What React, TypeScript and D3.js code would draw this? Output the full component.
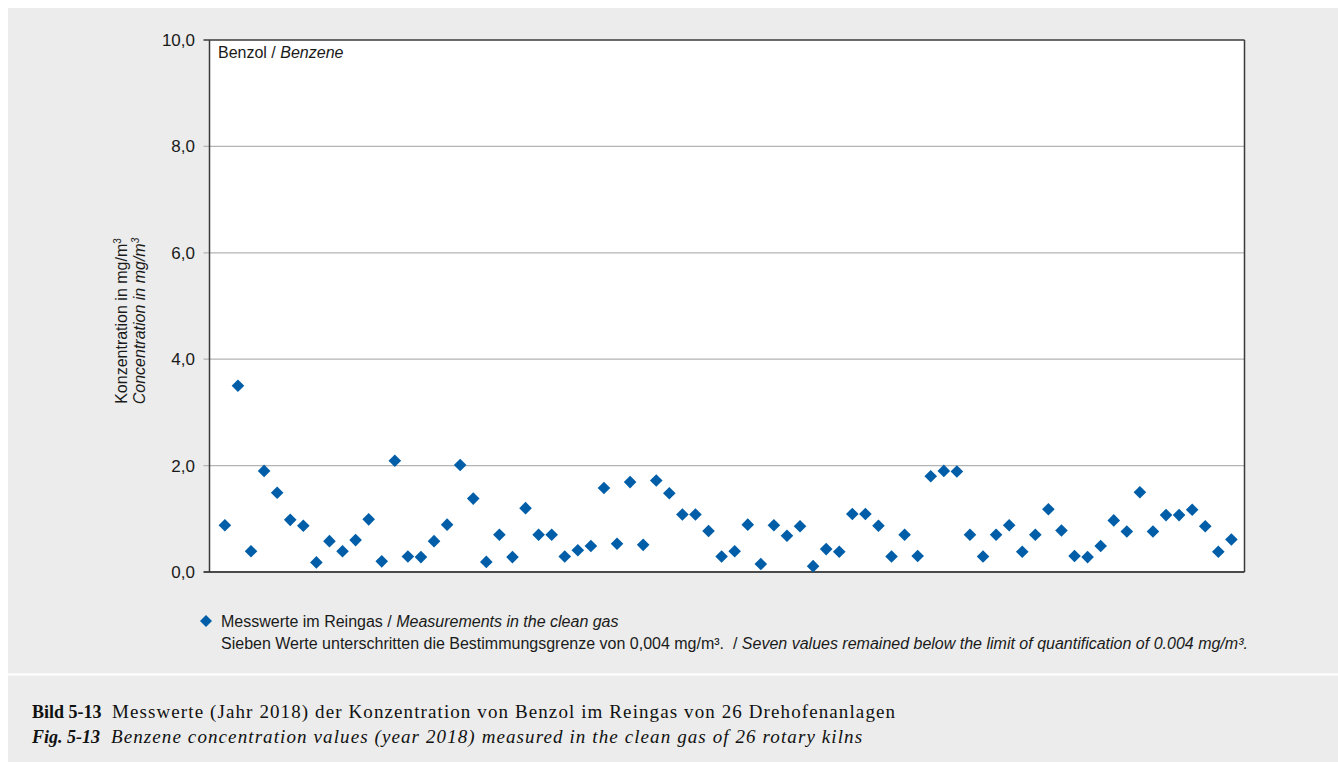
import * as d3 from "d3";

const values = [
  0.88, 3.5, 0.39, 1.9, 1.49, 0.98, 0.87, 0.18, 0.58, 0.39,
  0.6, 0.99, 0.2, 2.09, 0.29, 0.28, 0.58, 0.89, 2.01, 1.38,
  0.19, 0.7, 0.28, 1.2, 0.7, 0.7, 0.29, 0.41, 0.49, 1.58,
  0.53, 1.69, 0.51, 1.72, 1.48, 1.08, 1.08, 0.77, 0.29, 0.39,
  0.89, 0.15, 0.88, 0.68, 0.86, 0.11, 0.43, 0.38, 1.09, 1.09,
  0.87, 0.29, 0.7, 0.3, 1.8, 1.9, 1.89, 0.7, 0.29, 0.7,
  0.88, 0.38, 0.7, 1.18, 0.78, 0.3, 0.28, 0.49, 0.97, 0.76,
  1.5, 0.76, 1.07, 1.07, 1.17, 0.86, 0.38, 0.61,
];
const yTicks = [0, 2, 4, 6, 8, 10];

const W = 1338;
const H = 762;
const plot = { left: 209.5, right: 1244.5, top: 40, bottom: 572 };
const blue = "#005ea8";
const bg = "#ebeceb";
const narrow = "'Liberation Sans Narrow', 'Liberation Sans', Arial, sans-serif";
const serif = "'Liberation Serif', 'Times New Roman', serif";

const diamond = (cx: number, cy: number, r: number) =>
  `M${cx},${cy - r}L${cx + r},${cy}L${cx},${cy + r}L${cx - r},${cy}Z`;

export default function App() {
  const x = d3
    .scalePoint<number>()
    .domain(values.map((_, i) => i))
    .range([plot.left, plot.right])
    .padding(1.09)
    .align(0.54);
  const y = d3.scaleLinear().domain([0, 10]).range([plot.bottom, plot.top]);
  const fmt = (v: number) => d3.format(".1f")(v).replace(".", ",");

  return (
    <svg
      width={W}
      height={H}
      style={{ position: "absolute", left: 0, top: 0 }}
    >
      <rect x={8} y={8} width={W - 8} height={H - 8} fill={bg} />
      <line x1={8} x2={W} y1={674.5} y2={674.5} stroke="#fff" strokeWidth={2} />

      {/* Plotfläche */}
      <rect
        x={plot.left}
        y={plot.top}
        width={plot.right - plot.left}
        height={plot.bottom - plot.top}
        fill="#fff"
      />
      {yTicks.filter((t) => t > 0 && t < 10).map((t) => (
        <line
          key={t}
          x1={plot.left - 6}
          x2={plot.right}
          y1={y(t)}
          y2={y(t)}
          stroke="#b4b4b4"
          strokeWidth={1.3}
        />
      ))}
      <line x1={plot.left - 6} x2={plot.right} y1={plot.top} y2={plot.top} stroke="#3a3a3a" strokeWidth={1.3} />
      <line x1={plot.left - 6} x2={plot.right} y1={plot.bottom} y2={plot.bottom} stroke="#4a4a4a" strokeWidth={2.2} />
      <line x1={plot.left} x2={plot.left} y1={plot.top} y2={plot.bottom} stroke="#3a3a3a" strokeWidth={1.5} />
      <line x1={plot.right} x2={plot.right} y1={plot.top} y2={plot.bottom} stroke="#3a3a3a" strokeWidth={1.5} />

      {yTicks.map((t) => (
        <text
          key={t}
          x={195}
          y={y(t) + 6}
          textAnchor="end"
          fontFamily={narrow}
          fontSize={17}
          fill="#1a1a1a"
        >
          {fmt(t)}
        </text>
      ))}

      <g transform="translate(127,321) rotate(-90)" fontFamily={narrow} fontSize={16} fill="#1a1a1a">
        <text textAnchor="middle">
          Konzentration in mg/m<tspan fontSize={10} dy={-6}>3</tspan>
        </text>
        <text textAnchor="middle" y={18} fontStyle="italic">
          Concentration in mg/m<tspan fontSize={10} dy={-6}>3</tspan>
        </text>
      </g>

      <text x={218} y={58} fontFamily={narrow} fontSize={16} fill="#1a1a1a">
        Benzol / <tspan fontStyle="italic">Benzene</tspan>
      </text>

      {values.map((v, i) => (
        <path key={i} d={diamond(x(i) as number, y(v), 6.3)} fill={blue} />
      ))}

      {/* Legende */}
      <path d={diamond(206, 621, 6)} fill={blue} />
      <g fontFamily={narrow} fontSize={16} fill="#1a1a1a">
        <text x={221} y={627}>
          Messwerte im Reingas / <tspan fontStyle="italic">Measurements in the clean gas</tspan>
        </text>
        <text x={221} y={649}>
          Sieben Werte unterschritten die Bestimmungsgrenze von 0,004 mg/m³.{"\u00a0\u00a0"}/{" "}
          <tspan fontStyle="italic">Seven values remained below the limit of quantification of 0.004 mg/m³.</tspan>
        </text>
      </g>

      {/* Bildunterschrift */}
      <g fontFamily={serif} fontSize={19} fill="#111">
        <text x={32} y={718}>
          <tspan fontWeight="bold" fontSize={18}>Bild 5-13</tspan>
          <tspan x={112} letterSpacing={1.1}>
            Messwerte (Jahr 2018) der Konzentration von Benzol im Reingas von 26 Drehofenanlagen
          </tspan>
        </text>
        <text x={32} y={743} fontStyle="italic">
          <tspan fontWeight="bold" fontSize={18}>Fig. 5-13</tspan>
          <tspan x={111} letterSpacing={1.1}>
            Benzene concentration values (year 2018) measured in the clean gas of 26 rotary kilns
          </tspan>
        </text>
      </g>
    </svg>
  );
}
